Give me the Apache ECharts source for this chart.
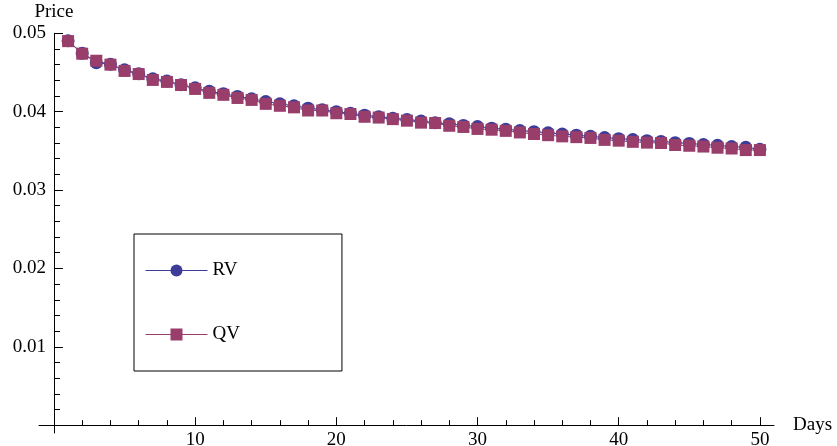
<!DOCTYPE html>
<html>
<head>
<meta charset="utf-8">
<script src="https://cdn.jsdelivr.net/npm/echarts@6/dist/echarts.min.js"></script>
<style>
html,body{margin:0;padding:0;background:#fff;}
#chart{width:837px;height:446px;}
</style>
</head>
<body>
<div id="chart"></div>
<script>
var days = [1,2,3,4,5,6,7,8,9,10,11,12,13,14,15,16,17,18,19,20,21,22,23,24,25,26,27,28,29,30,31,32,33,34,35,36,37,38,39,40,41,42,43,44,45,46,47,48,49,50];
var rv = [0.04905,0.04745,0.04625,0.04605,0.04535,0.04485,0.04420,0.04390,0.04345,0.04305,
          0.04260,0.04230,0.04195,0.04165,0.04130,0.04100,0.04075,0.04045,0.04025,0.04000,
          0.03980,0.03955,0.03935,0.03915,0.03900,0.03880,0.03860,0.03845,0.03825,0.03810,
          0.03790,0.03775,0.03760,0.03745,0.03730,0.03715,0.03700,0.03685,0.03670,0.03655,
          0.03645,0.03630,0.03620,0.03605,0.03595,0.03580,0.03570,0.03555,0.03545,0.03520];
var qv = [0.04900,0.04740,0.04650,0.04600,0.04520,0.04480,0.04405,0.04380,0.04340,0.04290,
          0.04240,0.04215,0.04175,0.04150,0.04100,0.04075,0.04055,0.04015,0.04015,0.03980,
          0.03970,0.03935,0.03925,0.03905,0.03885,0.03860,0.03855,0.03820,0.03805,0.03780,
          0.03770,0.03755,0.03735,0.03715,0.03700,0.03685,0.03675,0.03665,0.03640,0.03630,
          0.03615,0.03605,0.03600,0.03575,0.03565,0.03555,0.03540,0.03530,0.03510,0.03510];
var xMajorTicks = [10,20,30,40,50];
var xMinorTicks = [2,4,6,8,12,14,16,18,22,24,26,28,32,34,36,38,42,44,46,48];
var yMajorTicks = [0.01,0.02,0.03,0.04,0.05];
var yMinorTicks = [0.002,0.004,0.006,0.008,0.012,0.014,0.016,0.018,0.022,0.024,0.026,0.028,
                   0.032,0.034,0.036,0.038,0.042,0.044,0.046,0.048];

var FONT = '"Liberation Serif", "DejaVu Serif", serif';
var rvColor = '#3d3d99', qvColor = '#993d6b';

function pairs(xs, ys){ return xs.map(function(x,i){ return [x, ys[i]]; }); }

var chart = echarts.init(document.getElementById('chart'), null, {renderer:'canvas'});
var lineStyleAxis = {color:'#000', width:1};
chart.setOption({
  animation:false,
  backgroundColor:'#fff',
  grid:{left:39, right:63, top:33.3, bottom:13, outerBoundsMode:'none', containLabel:false},
  legend:{
    orient:'vertical', left:134, top:234,
    padding:[27,102,27,11],
    borderColor:'#000', borderWidth:1,
    itemWidth:62, itemHeight:15, itemGap:45,
    lineStyle:{width:1},
    textStyle:{fontFamily:FONT, fontSize:19, color:'#000'},
    data:['RV','QV']
  },
  xAxis:[{
    type:'value', min:-1.06, max:51,
    axisLine:{onZero:true, onZeroAxisIndex:0, lineStyle:lineStyleAxis},
    axisTick:{inside:true, length:8, customValues:xMajorTicks, lineStyle:lineStyleAxis},
    axisLabel:{customValues:xMajorTicks, margin:-2, fontFamily:FONT, fontSize:19, color:'#000'},
    splitLine:{show:false},
    name:'Days', nameLocation:'end', nameGap:19,
    nameTextStyle:{fontFamily:FONT, fontSize:19, color:'#000', verticalAlign:'middle'}
  },{
    type:'value', min:-1.06, max:51, position:'bottom',
    axisLine:{show:false, onZero:true, onZeroAxisIndex:0},
    axisTick:{inside:true, length:5, customValues:xMinorTicks, lineStyle:lineStyleAxis},
    axisLabel:{show:false},
    splitLine:{show:false}
  }],
  yAxis:[{
    type:'value', min:-0.001, max:0.05,
    axisLine:{onZero:true, onZeroAxisIndex:0, lineStyle:lineStyleAxis},
    axisTick:{inside:true, length:9, customValues:yMajorTicks, lineStyle:lineStyleAxis},
    axisLabel:{customValues:yMajorTicks, margin:-7, fontFamily:FONT, fontSize:19, color:'#000',
      formatter:function(v){return v.toFixed(2);}},
    splitLine:{show:false},
    name:'Price', nameLocation:'end', nameGap:12,
    nameTextStyle:{fontFamily:FONT, fontSize:19, color:'#000', align:'center'}
  },{
    type:'value', min:-0.001, max:0.05, position:'left',
    axisLine:{show:false, onZero:true, onZeroAxisIndex:0},
    axisTick:{inside:true, length:6, customValues:yMinorTicks, lineStyle:lineStyleAxis},
    axisLabel:{show:false},
    splitLine:{show:false}
  }],
  series:[{
    name:'RV', type:'line', xAxisIndex:0, yAxisIndex:0,
    data:pairs(days, rv),
    symbol:'circle', symbolSize:13, showAllSymbol:true,
    color:rvColor,
    lineStyle:{color:rvColor, width:1},
    itemStyle:{color:rvColor},
    silent:true
  },{
    name:'QV', type:'line', xAxisIndex:0, yAxisIndex:0,
    data:pairs(days, qv),
    symbol:'rect', symbolSize:12, showAllSymbol:true,
    color:qvColor,
    lineStyle:{color:qvColor, width:1},
    itemStyle:{color:qvColor},
    silent:true
  }]
});
</script>
</body>
</html>
